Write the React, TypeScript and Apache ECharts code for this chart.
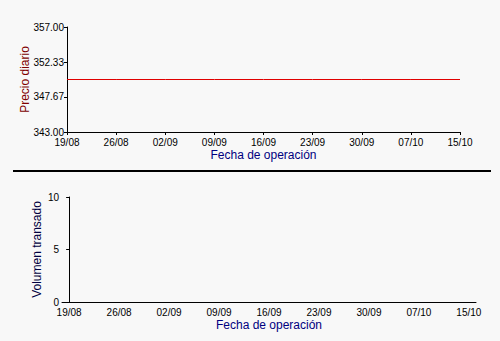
import React, { useEffect, useRef } from "react";
import * as echarts from "echarts";

const dateLabels = ["19/08", "26/08", "02/09", "09/09", "16/09", "23/09", "30/09", "07/10", "15/10"];
const labelDays = [0, 7, 14, 21, 28, 35, 42, 49, 56];
const priceDays = [0, 7, 14, 21, 28, 35, 42, 49, 56];
const prices = [350, 350, 350, 350, 350, 350, 350, 350, 350];
const priceTicks = [343, 347.67, 352.33, 357];
const volumeDays: number[] = [];
const volumes: number[] = [];

const FONT = "Liberation Sans";

export default function App() {
  const ref = useRef<HTMLDivElement>(null);
  useEffect(() => {
    if (!ref.current) return;
    const chart = echarts.init(ref.current, null, { renderer: "svg" });
    const dayLabel = (v: number) => {
      const i = labelDays.indexOf(Math.round(v));
      return i >= 0 ? dateLabels[i] : "";
    };
    const axisLine = { show: true, lineStyle: { color: "#000", width: 1 } };
    const axisLabel = { color: "#000", fontSize: 10, lineHeight: 10, fontFamily: FONT, margin: 3 };
    const xLabel = { ...axisLabel, margin: 5 };
    chart.setOption({
      animation: false,
      backgroundColor: "#f8f8f8",
      grid: [
        { left: 67, right: 40, top: 27, bottom: 209 },
        { left: 62, right: 24, top: 197, bottom: 39 },
      ],
      xAxis: [
        {
          type: "value", gridIndex: 0, min: 0, max: 56, interval: 7,
          axisLine, splitLine: { show: false },
          axisTick: { show: true, length: 3, lineStyle: { color: "#000" } },
          axisLabel: { ...xLabel, formatter: dayLabel, showMinLabel: true, showMaxLabel: true },
          name: "Fecha de operación", nameLocation: "middle", nameGap: 17, nameMoveOverlap: false,
          nameTextStyle: { color: "#000080", fontSize: 12, fontFamily: FONT },
        },
        {
          type: "value", gridIndex: 1, min: -1, max: 57,
          axisLine, splitLine: { show: false },
          axisTick: { show: false },
          axisLabel: { ...xLabel, customValues: labelDays, formatter: dayLabel },
          name: "Fecha de operación", nameLocation: "middle", nameGap: 17, nameMoveOverlap: false,
          nameTextStyle: { color: "#000080", fontSize: 12, fontFamily: FONT },
        },
      ],
      yAxis: [
        {
          type: "value", gridIndex: 0, min: 343, max: 357,
          axisLine, splitLine: { show: false },
          axisTick: { show: true, length: 3, customValues: priceTicks, lineStyle: { color: "#000" } },
          axisLabel: { ...axisLabel, customValues: priceTicks, formatter: (v: number) => v.toFixed(2) },
          name: "Precio diario", nameLocation: "middle", nameGap: 36, nameMoveOverlap: false,
          nameTextStyle: { color: "#800000", fontSize: 12, fontFamily: FONT },
        },
        {
          type: "value", gridIndex: 1, min: 0, max: 10, interval: 5,
          axisLine, splitLine: { show: false },
          axisTick: { show: true, length: 3, lineStyle: { color: "#000" } },
          axisLabel: { ...axisLabel },
          name: "Volumen transado", nameLocation: "middle", nameGap: 19, nameMoveOverlap: false,
          nameTextStyle: { color: "#000040", fontSize: 12, fontFamily: FONT },
        },
      ],
      series: [
        {
          type: "line", xAxisIndex: 0, yAxisIndex: 0, symbol: "none",
          itemStyle: { color: "#e00000" },
          lineStyle: { color: "#e00000", width: 1 },
          data: priceDays.map((d, i) => [d, prices[i]]),
        },
        {
          type: "bar", xAxisIndex: 1, yAxisIndex: 1,
          itemStyle: { color: "#000080" },
          data: volumeDays.map((d, i) => [d, volumes[i]]),
        },
      ],
      graphic: [
        { type: "line", shape: { x1: 13, y1: 171, x2: 491, y2: 171 }, style: { stroke: "#000", lineWidth: 2 } },
      ],
    });
    return () => chart.dispose();
  }, []);
  return <div ref={ref} style={{ position: "fixed", left: 0, top: 0, width: 500, height: 341 }} />;
}
